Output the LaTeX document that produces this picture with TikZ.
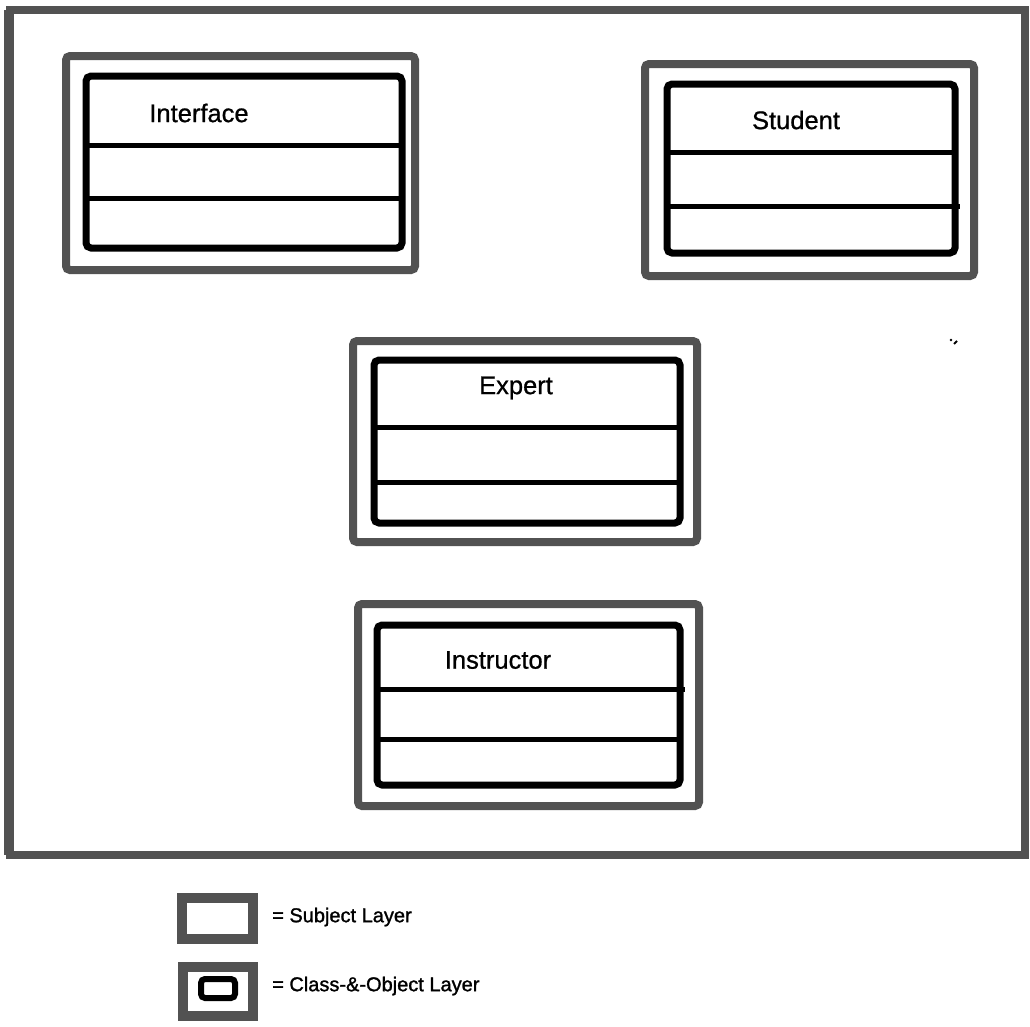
\documentclass[tikz,border=0pt]{standalone}
\usepackage{fontspec}
\setmainfont{Liberation Sans}
\newfontfamily\heavysans[FakeBold=0.8]{Liberation Sans}
\newfontfamily\legendsans[FakeBold=1.3]{Liberation Sans}
\definecolor{halftone}{gray}{0.32}
\begin{document}
\begin{tikzpicture}[x=1pt,y=-1pt,
  subjectlayer/.style={draw=halftone, line width=8pt, rounded corners=4pt},
  classbox/.style={draw=black, line width=7pt, rounded corners=5pt},
  divider/.style={draw=black, line width=5pt},
  classname/.style={font=\heavysans\fontsize{25.5}{30}\selectfont, inner sep=0pt},
  legendtext/.style={font=\legendsans\fontsize{20}{24}\selectfont, anchor=west, inner sep=0pt}]
\useasboundingbox (0,0) rectangle (1030,1026);

% outer frame of the model
\draw[draw=halftone, line width=8pt] (10,10) rectangle (1025,855);
\draw[draw=halftone, line width=4pt] (6,10) -- (6,855);

% Interface
\draw[subjectlayer] (66,56) rectangle (415,270);
\draw[classbox] (86,76) rectangle (402,248);
\draw[divider] (86,145) -- (402,145);
\draw[divider] (86,198) -- (402,198);
\node[classname] (interface) at (199,113) {Interface};

% Student
\draw[subjectlayer] (645,64) rectangle (974,276);
\draw[classbox] (667,84) rectangle (955,253);
\draw[divider] (667,152) -- (955,152);
\draw[divider] (667,206) -- (960,206);
\node[classname] (student) at (796,120) {Student};

% Expert
\draw[subjectlayer] (353,341) rectangle (697,542);
\draw[classbox] (374,360) rectangle (680,523);
\draw[divider] (374,427) -- (680,427);
\draw[divider] (374,482) -- (680,482);
\node[classname] (expert) at (516,388) {Expert};

% Instructor
\draw[subjectlayer] (358,604) rectangle (699,806);
\draw[classbox] (377,625) rectangle (680,785);
\draw[divider] (377,689) -- (685,689);
\draw[divider] (377,739) -- (680,739);
\node[classname] (instructor) at (498,660) {Instructor};

% two small specks right of Expert
\fill (951,340) circle (1.3pt);
\draw[line width=1.8pt] (954,344) -- (957,341);

% legend
\draw[draw=halftone, line width=10pt] (182,898) rectangle (253,939);
\node[legendtext] (subj) at (272,917) {= Subject Layer};
\draw[draw=halftone, line width=10pt] (183,967) rectangle (253,1016);
\draw[classbox, line width=6pt, rounded corners=4pt] (201,979) rectangle (235,998);
\node[legendtext] (cls) at (272,986) {= Class-\&-Object Layer};
\end{tikzpicture}
\end{document}
